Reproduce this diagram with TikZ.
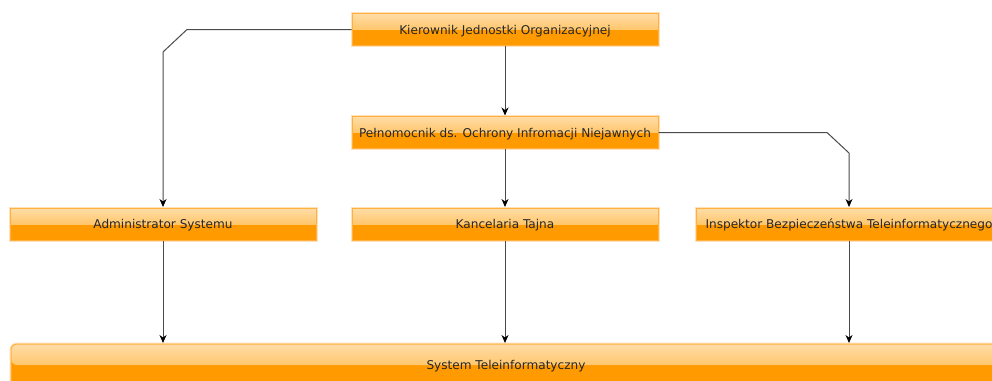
\documentclass[tikz,border=0pt]{standalone}
\usepackage{fontspec}
\setmainfont{DejaVu Sans}
\usetikzlibrary{arrows.meta}
\definecolor{boxorange}{HTML}{FF9A00}
\definecolor{boxlight}{HTML}{FFDDA8}
\definecolor{boxmid}{HTML}{FFB030}
\definecolor{boxborder}{HTML}{FFB040}
\definecolor{boxglow}{HTML}{FFE2BC}
\definecolor{linegray}{HTML}{4A4A4A}
\tikzset{
  x=1pt, y=-1pt,
  orgbox/.style={draw=boxborder, line width=1pt, fill=boxorange,
    preaction={draw=boxglow, line width=3pt},
    minimum width=306pt, minimum height=32pt, inner sep=0pt,
    text height=10pt, text depth=1pt,
    font=\fontsize{12.1}{14}\selectfont, text=black!85,
    path picture={\shade[top color=boxlight, bottom color=boxmid]
      (path picture bounding box.north west) rectangle (path picture bounding box.east);}},
  sysbox/.style={orgbox, rounded corners=6pt, minimum width=990pt, minimum height=42pt},
  conn/.style={draw=linegray, line width=1pt},
  arr/.style={conn, -{Stealth[length=8pt,width=7pt,inset=2.5pt,color=black]}, shorten >=0.5pt}
}
\begin{document}
\begin{tikzpicture}
\useasboundingbox (0,0) rectangle (992,380);
\clip (0,0) rectangle (992,380);
\node[orgbox] (kier) at (505,29.5) {Kierownik Jednostki Organizacyjnej};
\node[orgbox] (peln) at (505,132.5) {Pełnomocnik ds. Ochrony Infromacji Niejawnych};
\node[orgbox] (adm) at (163,224) {Administrator Systemu};
\node[orgbox] (kanc) at (505,224) {Kancelaria Tajna};
\node[orgbox] (insp) at (849,224) {Inspektor Bezpieczeństwa Teleinformatycznego};
\node[sysbox] (sys) at (506,365) {System Teleinformatyczny};
\coordinate (k1) at (187,29.5);
\coordinate (k2) at (163,52);
\coordinate (p1) at (827,132.5);
\coordinate (p2) at (849,153);
\draw[arr] (kier.west) -- (k1) -- (k2) -- (adm.north);
\draw[arr] (kier.south) -- (peln.north);
\draw[arr] (peln.east) -- (p1) -- (p2) -- (insp.north);
\draw[arr] (peln.south) -- (kanc.north);
\draw[arr] (adm.south) -- (adm.south |- sys.north);
\draw[arr] (kanc.south) -- (kanc.south |- sys.north);
\draw[arr] (insp.south) -- (insp.south |- sys.north);
\end{tikzpicture}
\end{document}
